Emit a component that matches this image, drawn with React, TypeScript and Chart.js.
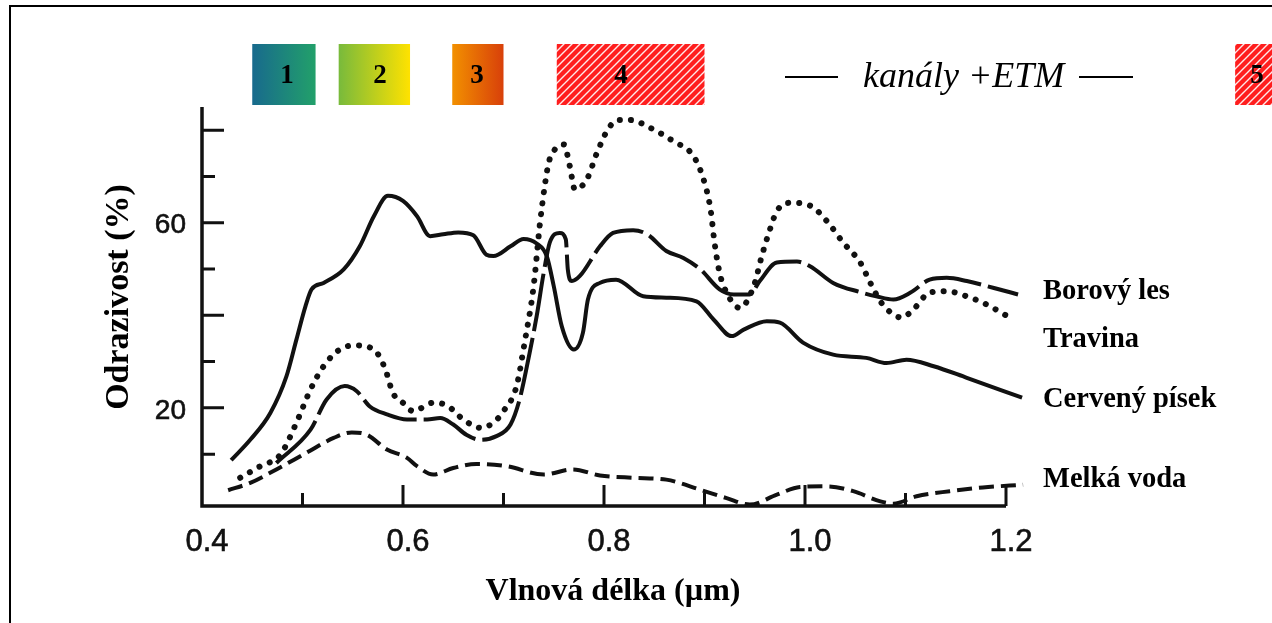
import React, { useEffect, useRef } from "react";
import { Chart, registerables } from "chart.js";
Chart.register(...registerables);

// ---- Data (wavelength in µm, reflectance in %) ----
const sandX = [0.429, 0.448, 0.468, 0.484, 0.494, 0.503, 0.509, 0.521, 0.541, 0.557, 0.571, 0.585, 0.600, 0.614, 0.627, 0.640, 0.655, 0.670, 0.683, 0.690, 0.707, 0.720, 0.733, 0.743, 0.750, 0.758, 0.770, 0.779, 0.784, 0.796, 0.812, 0.839, 0.862, 0.892, 0.909, 0.927, 0.939, 0.962, 0.975, 0.998, 1.028, 1.061, 1.081, 1.101, 1.128, 1.161, 1.216];
const sandY = [8.7, 13.1, 18.9, 26.8, 34.8, 42.0, 45.6, 47.0, 49.9, 54.9, 61.4, 65.8, 64.7, 61.4, 57.1, 57.5, 57.9, 57.3, 53.1, 52.8, 54.9, 56.5, 55.5, 52.8, 46.3, 37.6, 32.6, 36.2, 43.4, 47.0, 47.7, 44.1, 43.8, 43.0, 39.1, 35.5, 36.9, 38.7, 38.4, 34.1, 31.5, 30.8, 29.7, 30.4, 29.0, 26.5, 22.2];

const forestX = [0.474, 0.508, 0.524, 0.542, 0.554, 0.567, 0.584, 0.604, 0.624, 0.637, 0.650, 0.663, 0.677, 0.693, 0.707, 0.716, 0.726, 0.733, 0.740, 0.746, 0.756, 0.762, 0.764, 0.768, 0.776, 0.796, 0.809, 0.829, 0.843, 0.862, 0.879, 0.896, 0.915, 0.929, 0.945, 0.955, 0.972, 0.992, 1.005, 1.028, 1.055, 1.071, 1.088, 1.105, 1.124, 1.141, 1.161, 1.188, 1.212];
const forestY = [8.1, 15.3, 21.8, 24.7, 23.6, 20.3, 18.6, 17.5, 17.5, 17.8, 16.4, 14.2, 13.1, 13.9, 16.4, 21.8, 31.9, 39.8, 49.2, 55.7, 57.8, 56.4, 49.9, 47.4, 48.5, 54.9, 57.8, 58.4, 57.5, 53.9, 52.4, 49.9, 45.6, 44.5, 44.5, 47.4, 51.4, 51.6, 50.6, 47.0, 45.0, 44.1, 43.4, 44.9, 47.7, 48.1, 47.4, 45.9, 44.5];

const grassX = [0.438, 0.458, 0.478, 0.494, 0.508, 0.521, 0.537, 0.552, 0.571, 0.582, 0.590, 0.600, 0.610, 0.630, 0.644, 0.660, 0.677, 0.690, 0.700, 0.713, 0.721, 0.730, 0.736, 0.741, 0.745, 0.750, 0.760, 0.766, 0.771, 0.783, 0.793, 0.804, 0.814, 0.826, 0.846, 0.869, 0.889, 0.899, 0.906, 0.910, 0.915, 0.922, 0.935, 0.949, 0.957, 0.964, 0.972, 0.985, 1.005, 1.022, 1.038, 1.055, 1.065, 1.076, 1.088, 1.096, 1.108, 1.124, 1.141, 1.161, 1.181, 1.204, 1.216];
const grassY = [4.9, 7.4, 9.9, 16.8, 24.0, 29.0, 32.6, 33.5, 32.6, 28.6, 23.2, 21.1, 19.3, 21.1, 20.5, 17.5, 15.7, 16.8, 19.3, 24.7, 34.1, 46.3, 59.3, 67.9, 73.0, 75.5, 76.9, 72.2, 67.2, 69.4, 75.1, 80.2, 82.2, 82.2, 80.5, 77.6, 74.4, 69.4, 62.9, 55.7, 49.2, 44.9, 41.6, 46.3, 52.8, 57.8, 62.5, 64.3, 63.7, 60.3, 55.7, 51.4, 47.0, 42.7, 40.2, 39.5, 41.3, 44.9, 45.2, 44.1, 42.3, 39.5, 38.2];

const waterX = [0.426, 0.448, 0.474, 0.504, 0.531, 0.549, 0.564, 0.584, 0.604, 0.614, 0.630, 0.650, 0.673, 0.703, 0.740, 0.769, 0.796, 0.829, 0.862, 0.896, 0.922, 0.945, 0.972, 0.995, 1.022, 1.048, 1.075, 1.088, 1.111, 1.144, 1.177, 1.217];
const waterY = [2.2, 3.8, 6.7, 10.3, 13.5, 14.7, 14.2, 11.0, 9.2, 7.4, 5.6, 7.0, 7.9, 7.4, 5.6, 6.7, 5.4, 4.9, 4.5, 2.3, 0.5, -0.9, 1.25, 2.9, 3.05, 2.0, -0.2, -0.7, 0.9, 2.0, 2.8, 3.4];

const seriesNames = ["Borový les", "Travina", "Cervený písek", "Melká voda"];

// Axis ticks
const xMajorTicks = [0.4, 0.6, 0.8, 1.0, 1.2];
const xMinorTicks = [0.5, 0.7, 0.9, 1.1];
const xTickLabels = ["0.4", "0.6", "0.8", "1.0", "1.2"];
const yMajorTicks = [20, 40, 60, 80];
const yMinorTicks = [10, 30, 50, 70];
const yLabelTicks = [20, 60];
const yTickLabels = ["20", "60"];

// ETM channels (µm ranges) and their labels
const bandNames = ["1", "2", "3", "4", "5"];
const bandStart = [0.45, 0.536, 0.649, 0.753, 1.428];
const bandEnd = [0.513, 0.607, 0.7, 0.9, 1.475];
const bandLabelAt = [0.4846, 0.5771, 0.6736, 0.8169, 1.4498];

const xTitle = "Vlnová délka (µm)";
const yTitle = "Odrazivost (%)";
const bandTitle = "kanály +ETM";

function pts(xs: number[], ys: number[]) {
  return xs.map((x, i) => ({ x, y: ys[i] }));
}

function hatch(ctx: CanvasRenderingContext2D) {
  const c = document.createElement("canvas");
  c.width = 8;
  c.height = 8;
  const g = c.getContext("2d")!;
  g.fillStyle = "#ff1e1e";
  g.fillRect(0, 0, 8, 8);
  g.strokeStyle = "rgba(255,255,255,0.9)";
  g.lineWidth = 1.4;
  g.beginPath();
  g.moveTo(-2, 10);
  g.lineTo(10, -2);
  g.moveTo(-2, 2);
  g.lineTo(2, -2);
  g.moveTo(6, 10);
  g.lineTo(10, 6);
  g.stroke();
  return ctx.createPattern(c, "repeat")!;
}

const SERIF = "'Liberation Serif', 'Times New Roman', serif";
const SANS = "'Liberation Sans', Arial, sans-serif";

const decor = {
  id: "decor",
  beforeDraw(chart: any) {
    const ctx = chart.ctx as CanvasRenderingContext2D;
    ctx.save();
    ctx.fillStyle = "#fff";
    ctx.fillRect(0, 0, chart.width, chart.height);
    ctx.restore();
  },
  afterDraw(chart: any) {
    const ctx = chart.ctx as CanvasRenderingContext2D;
    const xs = chart.scales.x;
    const ys = chart.scales.y;
    const area = chart.chartArea;
    ctx.save();

    // frame
    ctx.strokeStyle = "#000";
    ctx.lineWidth = 2;
    ctx.beginPath();
    ctx.moveTo(10, chart.height);
    ctx.lineTo(10, 6);
    ctx.lineTo(chart.width, 6);
    ctx.stroke();

    // axes
    ctx.strokeStyle = "#111";
    ctx.lineWidth = 3.5;
    ctx.lineCap = "butt";
    ctx.beginPath();
    ctx.moveTo(area.left, area.top);
    ctx.lineTo(area.left, area.bottom);
    ctx.lineTo(area.right, area.bottom);
    ctx.stroke();

    ctx.lineWidth = 3;
    ctx.beginPath();
    for (const v of yMajorTicks) {
      const p = ys.getPixelForValue(v);
      ctx.moveTo(area.left, p);
      ctx.lineTo(area.left + 22, p);
    }
    for (const v of yMinorTicks) {
      const p = ys.getPixelForValue(v);
      ctx.moveTo(area.left, p);
      ctx.lineTo(area.left + 13, p);
    }
    for (const v of xMajorTicks) {
      if (v === xs.min) continue;
      const p = xs.getPixelForValue(v);
      ctx.moveTo(p, area.bottom);
      ctx.lineTo(p, area.bottom - 21);
    }
    for (const v of xMinorTicks) {
      const p = xs.getPixelForValue(v);
      ctx.moveTo(p, area.bottom);
      ctx.lineTo(p, area.bottom - 13);
    }
    ctx.stroke();

    // tick labels
    ctx.fillStyle = "#111";
    ctx.strokeStyle = "#111";
    ctx.lineWidth = 0.6;
    ctx.font = "28px " + SANS;
    ctx.textAlign = "right";
    ctx.textBaseline = "middle";
    yLabelTicks.forEach((v, i) => {
      const y = ys.getPixelForValue(v) + 3;
      ctx.fillText(yTickLabels[i], area.left - 16, y);
      ctx.strokeText(yTickLabels[i], area.left - 16, y);
    });
    ctx.font = "31px " + SANS;
    ctx.textAlign = "center";
    ctx.textBaseline = "alphabetic";
    xMajorTicks.forEach((v, i) => {
      const x = xs.getPixelForValue(v) + 5;
      ctx.fillText(xTickLabels[i], x, 551);
      ctx.strokeText(xTickLabels[i], x, 551);
    });

    // axis titles
    ctx.fillStyle = "#000";
    ctx.font = "bold 32px " + SERIF;
    ctx.textAlign = "center";
    ctx.fillText(xTitle, 613, 600);
    ctx.save();
    ctx.translate(128, 297);
    ctx.rotate(-Math.PI / 2);
    ctx.font = "bold 34px " + SERIF;
    ctx.fillText(yTitle, 0, 0);
    ctx.restore();

    // series labels
    ctx.font = "bold 28.5px " + SERIF;
    ctx.textAlign = "left";
    const labelY = [299, 347, 407, 487];
    seriesNames.forEach((n, i) => ctx.fillText(n, 1043, labelY[i]));

    // band boxes
    const top = 44;
    const h = 61;
    const grads: [string, string][] = [
      ["#186a8d", "#22a06a"],
      ["#78ba3c", "#ffe200"],
      ["#f29000", "#d8400a"],
    ];
    const pat = hatch(ctx);
    bandNames.forEach((name, i) => {
      const x0 = xs.getPixelForValue(bandStart[i]);
      const x1 = xs.getPixelForValue(bandEnd[i]);
      if (i < 3) {
        const g = ctx.createLinearGradient(x0, 0, x1, 0);
        g.addColorStop(0, grads[i][0]);
        g.addColorStop(1, grads[i][1]);
        ctx.fillStyle = g;
      } else {
        ctx.fillStyle = pat;
      }
      ctx.fillRect(x0, top, x1 - x0, h);
      ctx.fillStyle = "#000";
      ctx.font = "bold 27px " + SERIF;
      ctx.textAlign = "center";
      ctx.fillText(name, xs.getPixelForValue(bandLabelAt[i]), 83);
    });

    // channel title
    ctx.fillStyle = "#000";
    ctx.font = "italic 36px " + SERIF;
    ctx.textAlign = "left";
    ctx.fillText(bandTitle, 863, 87);
    ctx.lineWidth = 2;
    ctx.strokeStyle = "#000";
    ctx.beginPath();
    ctx.moveTo(785, 77);
    ctx.lineTo(838, 77);
    ctx.moveTo(1079, 77);
    ctx.lineTo(1133, 77);
    ctx.stroke();

    ctx.restore();
  },
};

export default function App() {
  const ref = useRef<HTMLCanvasElement>(null);
  useEffect(() => {
    const canvas = ref.current!;
    const common = {
      pointRadius: 0,
      fill: false,
      borderColor: "#111",
      tension: 0,
      cubicInterpolationMode: "monotone" as const,
      clip: false as any,
    };
    const chart = new Chart(canvas, {
      type: "line",
      data: {
        datasets: [
          { ...common, label: seriesNames[0], data: pts(forestX, forestY), borderWidth: 4, borderDash: [58, 7] },
          { ...common, label: seriesNames[1], data: pts(grassX, grassY), borderWidth: 6, borderDash: [0.1, 11], borderCapStyle: "round" },
          { ...common, label: seriesNames[2], data: pts(sandX, sandY), borderWidth: 4 },
          { ...common, label: seriesNames[3], data: pts(waterX, waterY), borderWidth: 4, borderDash: [15, 7] },
        ],
      },
      options: {
        responsive: false,
        animation: false,
        devicePixelRatio: 1,
        layout: { padding: { left: 202, right: 266, top: 107, bottom: 117 } },
        plugins: { legend: { display: false }, tooltip: { enabled: false } },
        scales: {
          x: { type: "linear", min: 0.4, max: 1.2, display: false },
          y: { type: "linear", min: -1.2, max: 85, display: false },
        },
      },
      plugins: [decor],
    });
    return () => chart.destroy();
  }, []);
  return (
    <div style={{ position: "fixed", left: 0, top: 0, width: 1272, height: 623, background: "#fff" }}>
      <canvas ref={ref} width={1272} height={623} style={{ display: "block" }} />
    </div>
  );
}
